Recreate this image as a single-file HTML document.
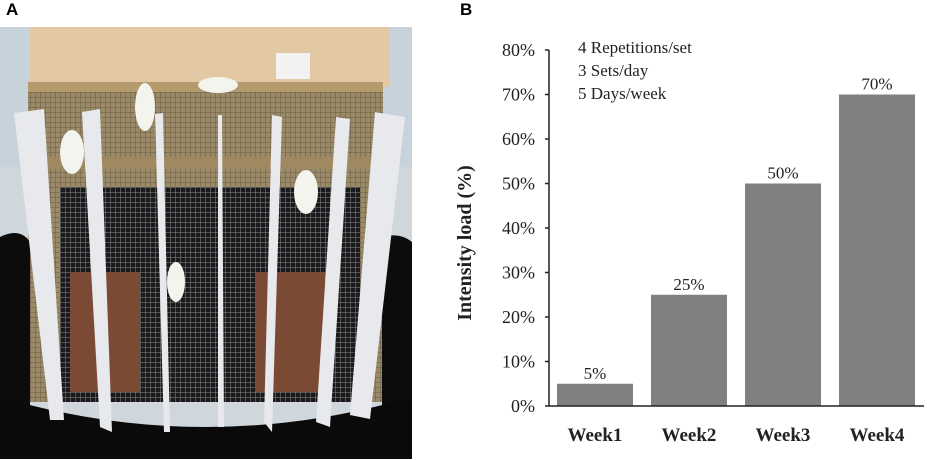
<!DOCTYPE html>
<html><head><meta charset="utf-8"><style>
body{margin:0;background:#fff;width:927px;height:460px;overflow:hidden;position:relative;font-family:"Liberation Serif",serif}
.lbl{position:absolute;font-family:"Liberation Sans",sans-serif;font-weight:bold;font-size:17px}
</style></head><body>
<div class="lbl" style="left:6px;top:0px">A</div>
<div class="lbl" style="left:460px;top:0px">B</div>
<svg style="position:absolute;left:0;top:27px" width="412" height="432" viewBox="0 0 412 432">
<defs><pattern id="mesh" width="5" height="5" patternUnits="userSpaceOnUse"><rect width="5" height="5" fill="#1a1a1e"/><path d="M0 0H5M0 0V5" stroke="#8a8a80" stroke-width="1"/></pattern>
<pattern id="mesh2" width="5" height="5" patternUnits="userSpaceOnUse"><rect width="5" height="5" fill="#9a8a68"/><path d="M0 0H5M0 0V5" stroke="#6a5c44" stroke-width="1"/></pattern></defs>
<rect width="412" height="432" fill="#cfd6dc"/>
<rect x="0" y="0" width="412" height="140" fill="#c8d2da"/>
<rect x="30" y="0" width="360" height="60" fill="#e2c9a4"/>
<rect x="276" y="26" width="34" height="26" fill="#f2f2f2"/>
<rect x="28" y="55" width="355" height="320" fill="url(#mesh2)"/>
<rect x="60" y="160" width="300" height="215" fill="url(#mesh)"/>
<rect x="28" y="55" width="355" height="10" fill="#b49a6c"/>
<rect x="28" y="130" width="355" height="12" fill="#a08860"/>
<rect x="70" y="245" width="70" height="120" fill="#7a4a34"/>
<rect x="255" y="245" width="70" height="120" fill="#7a4a34"/>
<path d="M0 210 Q20 200 30 215 L30 432 L0 432Z M382 210 Q400 205 412 215 L412 432 L382 432Z" fill="#0c0c0c"/>
<path d="M0 370 Q206 430 412 370 L412 432 L0 432Z" fill="#0a0a0a"/>
<g fill="#e8e9ec">
<polygon points="14,86 44,82 64,393 50,393"/>
<polygon points="82,85 100,82 112,405 100,400"/>
<polygon points="155,87 163,86 170,405 164,405"/>
<polygon points="218,88 222,88 224,400 218,400"/>
<polygon points="272,88 282,90 272,405 264,395"/>
<polygon points="336,90 350,92 330,400 316,395"/>
<polygon points="375,85 405,90 370,392 350,388"/>
</g>
<g fill="#f4f4ee"><ellipse cx="72" cy="125" rx="12" ry="22"/><ellipse cx="145" cy="80" rx="10" ry="24"/><ellipse cx="218" cy="58" rx="20" ry="8"/><ellipse cx="306" cy="165" rx="12" ry="22"/><ellipse cx="176" cy="255" rx="9" ry="20"/></g>
</svg>
<svg id="chart" style="position:absolute;left:0;top:0" width="927" height="460"></svg>
<script>
const categories=["Week1","Week2","Week3","Week4"];
const values=[5,25,50,70];
const valueLabels=["5%","25%","50%","70%"];
const yTicks=[0,10,20,30,40,50,60,70,80];
const notes=["4 Repetitions/set","3 Sets/day","5 Days/week"];
const NS="http://www.w3.org/2000/svg";
const svg=document.getElementById('chart');
const x0=549,x1=924,y0=406,yTop=50;
const y=v=>y0-(v/80)*(y0-yTop);
const step=94,bw=76,first=557;
const bx=i=>first+i*step;
function mk(t,a,txt){const e=document.createElementNS(NS,t);for(const k in a)e.setAttribute(k,a[k]);if(txt!==undefined)e.textContent=txt;svg.appendChild(e);return e;}
categories.forEach((c,i)=>{
 const r=mk('rect',{x:bx(i),y:y(values[i]),width:bw,height:y0-y(values[i]),fill:'#808080'});
 
 
 const v=mk('text',{x:bx(i)+bw/2,y:y(values[i])-5,'text-anchor':'middle','font-size':'17','font-family':'Liberation Serif, serif',fill:'#222'},valueLabels[i]);
 
 
 const t=mk('text',{x:bx(i)+bw/2,y:441,'text-anchor':'middle','font-size':'19','font-weight':'bold','font-family':'Liberation Serif, serif',fill:'#222'},c);
 
 
});
yTicks.forEach(v=>{
 const l=mk('line',{x1:x0-4,x2:x0,y1:y(v),y2:y(v),stroke:'#222','stroke-width':1.5});
 
 
 const t=mk('text',{x:535,y:y(v)+6,'text-anchor':'end','font-size':'18','font-family':'Liberation Serif, serif',fill:'#222'},v+'%');
 
 
});
const ya=mk('line',{x1:x0,x2:x0,y1:yTop,y2:y0,stroke:'#222','stroke-width':1.5});


const xa=mk('line',{x1:x0,x2:x1,y1:y0,y2:y0,stroke:'#222','stroke-width':1.5});


notes.forEach((n,i)=>{
 const t=mk('text',{x:578,y:53+i*23,'font-size':'17','font-family':'Liberation Serif, serif',fill:'#222'},n);
 
 
});
const yt=mk('text',{x:0,y:0,transform:'translate(471,243) rotate(-90)','text-anchor':'middle','font-size':'20','font-weight':'bold','font-family':'Liberation Serif, serif',fill:'#222'},'Intensity load (%)');


</script>
</body></html>
